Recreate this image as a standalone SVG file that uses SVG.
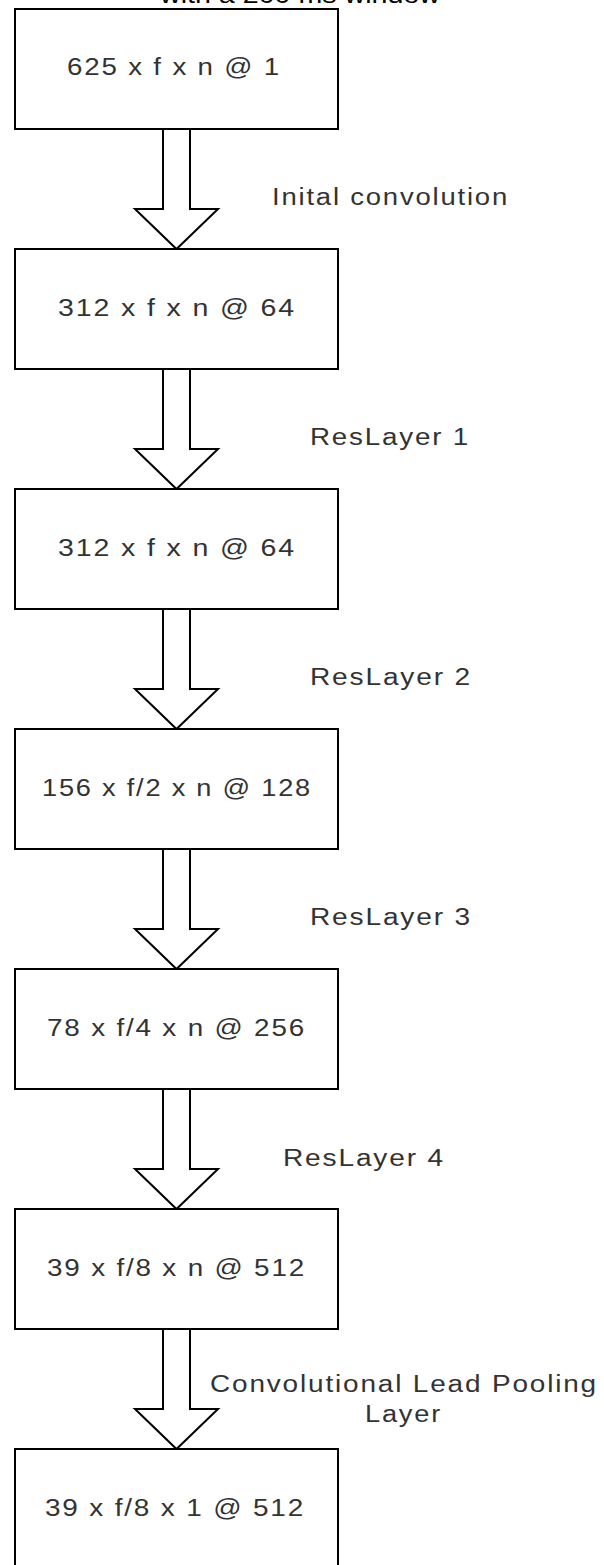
<svg xmlns="http://www.w3.org/2000/svg" width="604" height="1565" viewBox="0 0 604 1565">
<style>
.box{fill:#fff;stroke:#000;stroke-width:2}
.arr{fill:#fff;stroke:#000;stroke-width:2;stroke-linejoin:miter}
.t{font-family:"Liberation Sans",Arial,sans-serif;font-size:23px;fill:#333;text-anchor:middle;letter-spacing:1.5px}
.title{font-family:"Liberation Sans",Arial,sans-serif;font-size:24px;fill:#000;text-anchor:middle}
</style>
<rect width="604" height="1565" fill="#fff"/>
<text class="title" x="300" y="3" textLength="280" lengthAdjust="spacingAndGlyphs">with a 200 ms window</text>
<g id="connectors">
<polygon class="arr" points="163,129 190,129 190,209 218,209 176.5,249 135,209 163,209"/>
<polygon class="arr" points="163,369 190,369 190,449 218,449 176.5,489 135,449 163,449"/>
<polygon class="arr" points="163,609 190,609 190,689 218,689 176.5,729 135,689 163,689"/>
<polygon class="arr" points="163,849 190,849 190,929 218,929 176.5,969 135,929 163,929"/>
<polygon class="arr" points="163,1089 190,1089 190,1169 218,1169 176.5,1209 135,1169 163,1169"/>
<polygon class="arr" points="163,1329 190,1329 190,1409 218,1409 176.5,1449 135,1409 163,1409"/>
<text class="t" x="390.5" y="205" textLength="237" lengthAdjust="spacingAndGlyphs">Inital convolution</text>
<text class="t" x="390" y="445" textLength="160" lengthAdjust="spacingAndGlyphs">ResLayer 1</text>
<text class="t" x="391" y="685" textLength="162" lengthAdjust="spacingAndGlyphs">ResLayer 2</text>
<text class="t" x="391" y="925" textLength="162" lengthAdjust="spacingAndGlyphs">ResLayer 3</text>
<text class="t" x="364" y="1166" textLength="162" lengthAdjust="spacingAndGlyphs">ResLayer 4</text>
<text class="t" x="404" y="1392" textLength="388" lengthAdjust="spacingAndGlyphs">Convolutional Lead Pooling</text>
<text class="t" x="403.5" y="1422" textLength="77" lengthAdjust="spacingAndGlyphs">Layer</text>
</g>
<g id="n1"><rect class="box" x="15" y="9" width="323" height="120"/><text class="t" x="174" y="75" textLength="214" lengthAdjust="spacingAndGlyphs">625 x f x n @ 1</text></g>
<g id="n2"><rect class="box" x="15" y="249" width="323" height="120"/><text class="t" x="177" y="316" textLength="238" lengthAdjust="spacingAndGlyphs">312 x f x n @ 64</text></g>
<g id="n3"><rect class="box" x="15" y="489" width="323" height="120"/><text class="t" x="177" y="556" textLength="238" lengthAdjust="spacingAndGlyphs">312 x f x n @ 64</text></g>
<g id="n4"><rect class="box" x="15" y="729" width="323" height="120"/><text class="t" x="177" y="796" textLength="270" lengthAdjust="spacingAndGlyphs">156 x f/2 x n @ 128</text></g>
<g id="n5"><rect class="box" x="15" y="969" width="323" height="120"/><text class="t" x="176.5" y="1036" textLength="259" lengthAdjust="spacingAndGlyphs">78 x f/4 x n @ 256</text></g>
<g id="n6"><rect class="box" x="15" y="1209" width="323" height="120"/><text class="t" x="176.5" y="1276" textLength="259" lengthAdjust="spacingAndGlyphs">39 x f/8 x n @ 512</text></g>
<g id="n7"><rect class="box" x="15" y="1449" width="323" height="120"/><text class="t" x="175" y="1516" textLength="260" lengthAdjust="spacingAndGlyphs">39 x f/8 x 1 @ 512</text></g>
</svg>
